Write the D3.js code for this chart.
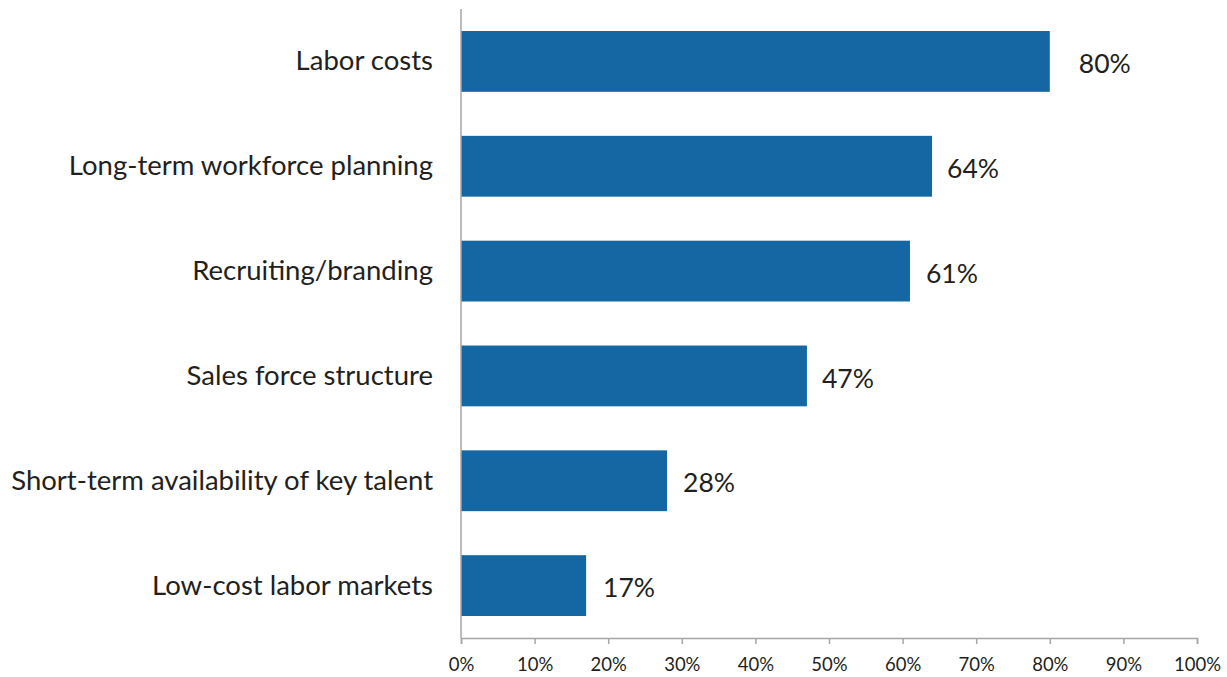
<!DOCTYPE html>
<html>
<head>
<meta charset="utf-8">
<script src="https://cdn.jsdelivr.net/npm/d3@7"></script>
<style>
  html, body { margin: 0; padding: 0; background: #fff; }
  svg text { font-family: Lato, "Open Sans", sans-serif; fill: #231f20; }
</style>
</head>
<body>
<svg id="chart" width="1227" height="677"></svg>
<script>
// Survey results: share of respondents per workforce topic
const categories = [
  "Labor costs",
  "Long-term workforce planning",
  "Recruiting/branding",
  "Sales force structure",
  "Short-term availability of key talent",
  "Low-cost labor markets"
];
const values = [80, 64, 61, 47, 28, 17];
const tickValues = [0, 10, 20, 30, 40, 50, 60, 70, 80, 90, 100];

// horizontal gap between each bar end and its value label (px)
const labelGaps = [29, 15, 16, 15, 16, 17];

const svg = d3.select("#chart");
const plotLeft = 461, plotRight = 1197, plotTop = 9, plotBottom = 638;

const x = d3.scaleLinear().domain([0, 100]).range([plotLeft, plotRight]);
const y = d3.scaleBand().domain(categories).range([plotTop, plotBottom])
  .paddingInner(0.42).paddingOuter(0.21);

// bars
svg.append("g").selectAll("rect")
  .data(categories)
  .join("rect")
  .attr("x", x(0))
  .attr("y", d => y(d))
  .attr("width", (d, i) => x(values[i]) - x(0))
  .attr("height", y.bandwidth())
  .attr("fill", "#1467a3");

// value labels
svg.append("g").selectAll("text")
  .data(categories)
  .join("text")
  .attr("x", (d, i) => x(values[i]) + labelGaps[i])
  .attr("y", d => y(d) + y.bandwidth() / 2 + 5)
  .attr("dominant-baseline", "middle")
  .attr("font-size", 26.5)
  .text((d, i) => values[i] + "%");

// category labels
svg.append("g").selectAll("text")
  .data(categories)
  .join("text")
  .attr("x", plotLeft - 28)
  .attr("y", d => y(d) + y.bandwidth() / 2 + 2)
  .attr("text-anchor", "end")
  .attr("dominant-baseline", "middle")
  .attr("font-size", 27.5)
  .text(d => d);

// x axis
const xAxis = d3.axisBottom(x)
  .tickValues(tickValues)
  .tickFormat(d => d + "%")
  .tickSize(6)
  .tickPadding(14);
const gx = svg.append("g").attr("transform", `translate(0,${plotBottom})`).call(xAxis);
gx.select(".domain").attr("stroke", "#a6a6a6").attr("stroke-width", 1.5);
gx.selectAll(".tick line").attr("stroke", "#a6a6a6").attr("stroke-width", 1.5);
gx.selectAll(".tick text").attr("font-size", 18.5).style("font-family", "Lato, 'Open Sans', sans-serif").attr("fill", "#231f20");

// category axis line
svg.append("line")
  .attr("x1", plotLeft).attr("x2", plotLeft)
  .attr("y1", plotTop).attr("y2", plotBottom)
  .attr("stroke", "#a6a6a6").attr("stroke-width", 1.5);
</script>
</body>
</html>
